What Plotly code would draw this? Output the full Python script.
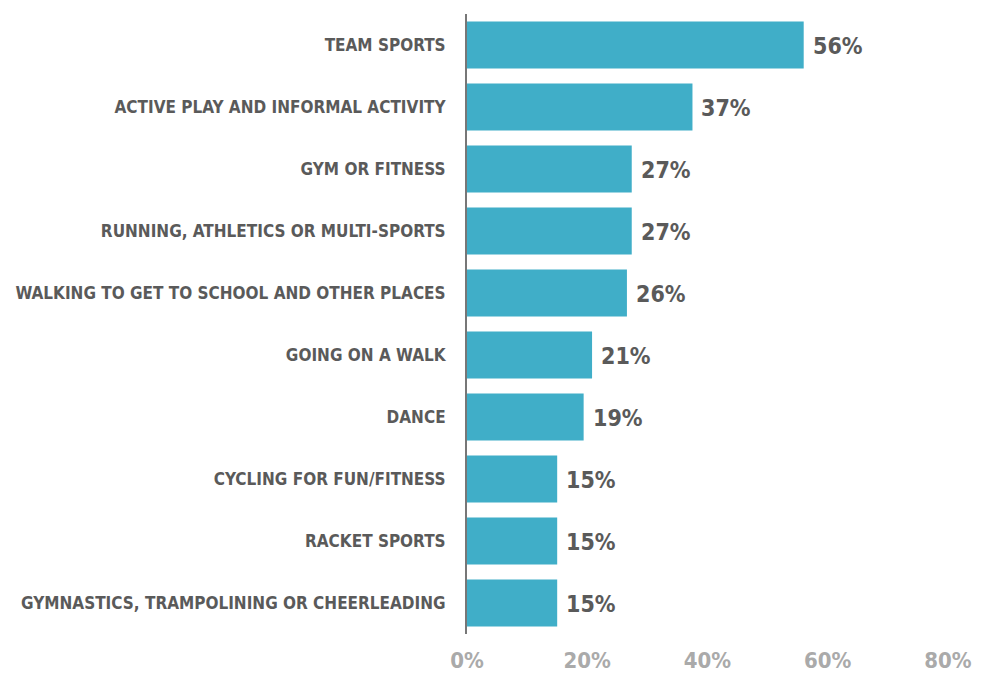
import plotly.graph_objects as go

categories = [
    "TEAM SPORTS",
    "ACTIVE PLAY AND INFORMAL ACTIVITY",
    "GYM OR FITNESS",
    "RUNNING, ATHLETICS OR MULTI-SPORTS",
    "WALKING TO GET TO SCHOOL AND OTHER PLACES",
    "GOING ON A WALK",
    "DANCE",
    "CYCLING FOR FUN/FITNESS",
    "RACKET SPORTS",
    "GYMNASTICS, TRAMPOLINING OR CHEERLEADING",
]
values = [56, 37.5, 27.4, 27.4, 26.6, 20.8, 19.4, 15, 15, 15]
value_labels = ["56%", "37%", "27%", "27%", "26%", "21%", "19%", "15%", "15%", "15%"]
tick_vals = [0, 20, 40, 60, 80]
tick_text = ["0%", "20%", "40%", "60%", "80%"]

FONT = "DejaVu Sans Condensed, Liberation Sans Narrow, Arial Narrow, sans-serif"

fig = go.Figure(go.Bar(
    y=categories,
    x=values,
    orientation="h",
    marker=dict(color="#40AEC8", line=dict(width=0)),
    width=0.76,
    hoverinfo="skip",
))

for c, v, t in zip(categories, values, value_labels):
    fig.add_annotation(
        x=v, y=c, text=t, xref="x", yref="y",
        xanchor="left", yanchor="middle", xshift=7, yshift=-1,
        showarrow=False,
        font=dict(family=FONT, size=23, color="#5a5a5a", weight="bold"),
    )

fig.update_layout(
    width=988, height=673,
    margin=dict(l=459, r=48, t=6, b=47),
    paper_bgcolor="white", plot_bgcolor="white",
    showlegend=False,
    xaxis=dict(
        range=[0, 80], tickvals=tick_vals, ticktext=tick_text,
        showgrid=False, zeroline=False, showline=False,
        ticks="", ticklabelstandoff=11, automargin=False,
        tickfont=dict(family=FONT, size=22, color="#aaaaaa", weight="bold"),
    ),
    yaxis=dict(
        autorange="reversed",
        showgrid=False, zeroline=False, automargin=False,
        showline=True, linecolor="#777777", linewidth=2,
        ticks="", ticklabelstandoff=16,
        tickfont=dict(family=FONT, size=17, color="#5a5a5a", weight="bold"),
    ),
)

fig.write_html("out.html")
